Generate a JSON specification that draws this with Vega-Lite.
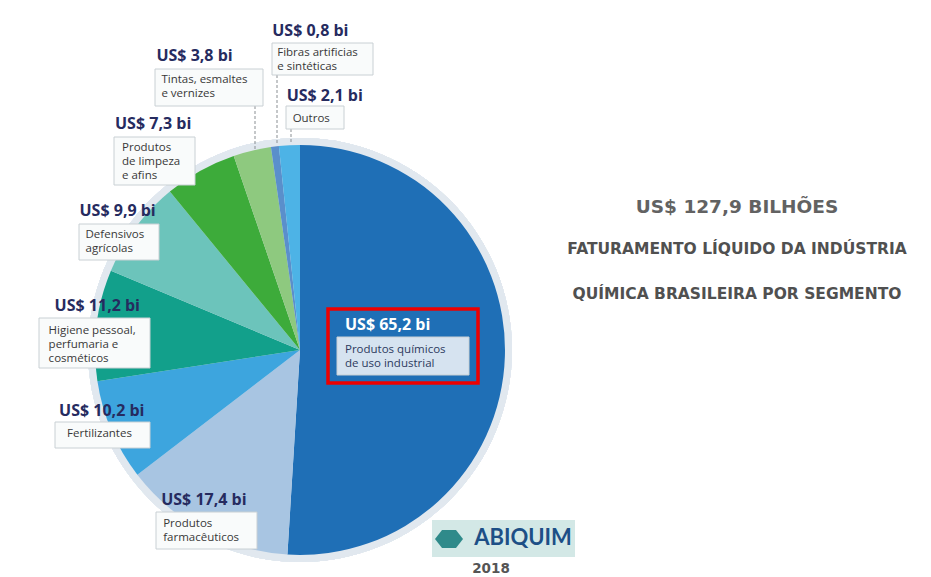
{
  "$schema": "https://vega.github.io/schema/vega-lite/v6.json",
  "width": 600,
  "height": 452,
  "autosize": {"type": "none"},
  "padding": {"left": 0, "top": 124, "right": 331, "bottom": 1},
  "background": "#ffffff",
  "config": {
    "view": {"stroke": null},
    "locale": {"number": {"decimal": ",", "thousands": ".", "grouping": [3], "currency": ["US$ ", " bi"]}}
  },
  "title": {
    "text": "US$ 127,9 BILHÕES",
    "subtitle": ["FATURAMENTO LÍQUIDO DA INDÚSTRIA", "QUÍMICA BRASILEIRA POR SEGMENTO"],
    "anchor": "middle",
    "frame": "group",
    "orient": "top",
    "align": "center",
    "dx": 437,
    "dy": 281,
    "offset": 0,
    "font": "DejaVu Sans",
    "fontSize": 18.5,
    "fontWeight": "bold",
    "color": "#626262",
    "subtitleFont": "DejaVu Sans",
    "subtitleFontSize": 15.5,
    "subtitleFontWeight": "bold",
    "subtitleColor": "#505050",
    "subtitleLineHeight": 45,
    "subtitlePadding": 25
  },
  "data": {
    "values": [
      {"segmento": "Produtos químicos de uso industrial", "nome": "Produtos químicos\nde uso industrial", "valor": 65.2, "ordem": 1},
      {"segmento": "Produtos farmacêuticos", "nome": "Produtos\nfarmacêuticos", "valor": 17.4, "ordem": 2},
      {"segmento": "Fertilizantes", "nome": "Fertilizantes", "valor": 10.2, "ordem": 3},
      {"segmento": "Higiene pessoal, perfumaria e cosméticos", "nome": "Higiene pessoal,\nperfumaria e\ncosméticos", "valor": 11.2, "ordem": 4},
      {"segmento": "Defensivos agrícolas", "nome": "Defensivos\nagrícolas", "valor": 9.9, "ordem": 5},
      {"segmento": "Produtos de limpeza e afins", "nome": "Produtos\nde limpeza\ne afins", "valor": 7.3, "ordem": 6},
      {"segmento": "Tintas, esmaltes e vernizes", "nome": "Tintas, esmaltes\ne vernizes", "valor": 3.8, "ordem": 7},
      {"segmento": "Fibras artificias e sintéticas", "nome": "Fibras artificias\ne sintéticas", "valor": 0.8, "ordem": 8},
      {"segmento": "Outros", "nome": "Outros", "valor": 2.1, "ordem": 9}
    ]
  },
  "layer": [
    {
      "mark": {"type": "arc", "outerRadius": 212, "theta": 0, "theta2": 6.2832, "color": "#e1e8ef"},
      "encoding": {}
    },
    {
      "mark": {"type": "arc", "outerRadius": 205},
      "encoding": {
        "theta": {"field": "valor", "type": "quantitative", "stack": true},
        "order": {"field": "ordem", "type": "quantitative"},
        "color": {
          "field": "segmento",
          "type": "nominal",
          "legend": null,
          "scale": {
            "domain": ["Produtos químicos de uso industrial", "Produtos farmacêuticos", "Fertilizantes", "Higiene pessoal, perfumaria e cosméticos", "Defensivos agrícolas", "Produtos de limpeza e afins", "Tintas, esmaltes e vernizes", "Fibras artificias e sintéticas", "Outros"],
            "range": ["#1f6fb6", "#a8c5e2", "#3da5de", "#12a08b", "#6cc4bb", "#3dab3a", "#8ec97f", "#5a8fcb", "#4db3e6"]
          }
        }
      }
    },
    {
      "mark": {"type": "point", "size": 4, "filled": false, "stroke": "#8a8f93", "strokeWidth": 1, "strokeDash": [3, 2], "shape": "M-45,-244V-200M-23,-275V-205M-9,-221V-208"},
      "encoding": {"opacity": {"condition": {"test": "datum.ordem === 1", "value": 1}, "value": 0}}
    },
    {
      "mark": {"type": "point", "size": 4, "filled": true, "stroke": "#c9d0d4", "strokeWidth": 1, "opacity": 1},
      "encoding": {
        "fill": {"condition": {"test": "datum.ordem === 1", "value": "#d6e3f0"}, "value": "#f9fbfb"},
        "shape": {
          "field": "segmento",
          "type": "nominal",
          "legend": null,
          "scale": {
            "domain": ["Produtos químicos de uso industrial", "Produtos farmacêuticos", "Fertilizantes", "Higiene pessoal, perfumaria e cosméticos", "Defensivos agrícolas", "Produtos de limpeza e afins", "Tintas, esmaltes e vernizes", "Fibras artificias e sintéticas", "Outros"],
            "range": ["M37,-13H169V25H37Z", "M-144,162H-43V199H-144Z", "M-245,72H-150V98H-245Z", "M-261,-32H-150V18H-261Z", "M-221,-126H-141V-90H-221Z", "M-186,-213H-105V-165H-186Z", "M-145,-281H-37V-244H-145Z", "M-28,-307H73V-275H-28Z", "M-14,-244H44V-221H-14Z"]
          }
        }
      }
    },
    {
      "mark": {"type": "point", "size": 4, "filled": false, "stroke": "#ee0000", "strokeWidth": 3.5, "shape": "M28,-41H178V33H28Z"},
      "encoding": {"opacity": {"condition": {"test": "datum.ordem === 1", "value": 1}, "value": 0}}
    },
    {
      "encoding": {
        "theta": {"field": "valor", "type": "quantitative", "stack": true},
        "order": {"field": "ordem", "type": "quantitative"},
        "detail": {"field": "segmento", "type": "nominal"}
      },
      "layer": [
        {"mark": {"type": "text", "radius": 45, "dx": 0, "dy": -34, "align": "left", "baseline": "top", "font": "Open Sans", "fontSize": 16, "fontWeight": "bold", "color": "#ffffff"},
         "encoding": {"text": {"condition": {"test": "datum.ordem === 1", "field": "valor", "type": "quantitative", "format": "$.1f"}, "value": ""}}},
        {"mark": {"type": "text", "radius": 45, "dx": 0, "dy": -7, "align": "left", "baseline": "top", "font": "Open Sans", "fontSize": 11.5, "lineHeight": 14, "lineBreak": "\n", "color": "#2d3a5e"},
         "encoding": {"text": {"condition": {"test": "datum.ordem === 1", "field": "nome"}, "value": ""}}},

        {"mark": {"type": "text", "radius": 170, "dx": -59, "dy": -8, "align": "left", "baseline": "top", "font": "Open Sans", "fontSize": 16, "fontWeight": "bold", "color": "#262b5f"},
         "encoding": {"text": {"condition": {"test": "datum.ordem === 2", "field": "valor", "type": "quantitative", "format": "$.1f"}, "value": ""}}},
        {"mark": {"type": "text", "radius": 170, "dx": -57, "dy": 18, "align": "left", "baseline": "top", "font": "Open Sans", "fontSize": 11.5, "lineHeight": 14, "lineBreak": "\n", "color": "#383838"},
         "encoding": {"text": {"condition": {"test": "datum.ordem === 2", "field": "nome"}, "value": ""}}},

        {"mark": {"type": "text", "radius": 200, "dx": -57, "dy": -26, "align": "left", "baseline": "top", "font": "Open Sans", "fontSize": 16, "fontWeight": "bold", "color": "#262b5f"},
         "encoding": {"text": {"condition": {"test": "datum.ordem === 3", "field": "valor", "type": "quantitative", "format": "$.1f"}, "value": ""}}},
        {"mark": {"type": "text", "radius": 200, "dx": -49, "dy": -1, "align": "left", "baseline": "top", "font": "Open Sans", "fontSize": 11.5, "lineHeight": 14, "lineBreak": "\n", "color": "#383838"},
         "encoding": {"text": {"condition": {"test": "datum.ordem === 3", "field": "nome"}, "value": ""}}},

        {"mark": {"type": "text", "radius": 220, "dx": -27, "dy": -25, "align": "left", "baseline": "top", "font": "Open Sans", "fontSize": 16, "fontWeight": "bold", "color": "#262b5f"},
         "encoding": {"text": {"condition": {"test": "datum.ordem === 4", "field": "valor", "type": "quantitative", "format": "$.1f"}, "value": ""}}},
        {"mark": {"type": "text", "radius": 220, "dx": -33, "dy": 2, "align": "left", "baseline": "top", "font": "Open Sans", "fontSize": 11.5, "lineHeight": 14, "lineBreak": "\n", "color": "#383838"},
         "encoding": {"text": {"condition": {"test": "datum.ordem === 4", "field": "nome"}, "value": ""}}},

        {"mark": {"type": "text", "radius": 220, "dx": -44, "dy": -16, "align": "left", "baseline": "top", "font": "Open Sans", "fontSize": 16, "fontWeight": "bold", "color": "#262b5f"},
         "encoding": {"text": {"condition": {"test": "datum.ordem === 5", "field": "valor", "type": "quantitative", "format": "$.1f"}, "value": ""}}},
        {"mark": {"type": "text", "radius": 220, "dx": -38, "dy": 10, "align": "left", "baseline": "top", "font": "Open Sans", "fontSize": 11.5, "lineHeight": 14, "lineBreak": "\n", "color": "#383838"},
         "encoding": {"text": {"condition": {"test": "datum.ordem === 5", "field": "nome"}, "value": ""}}},

        {"mark": {"type": "text", "radius": 230, "dx": -73, "dy": -33, "align": "left", "baseline": "top", "font": "Open Sans", "fontSize": 16, "fontWeight": "bold", "color": "#262b5f"},
         "encoding": {"text": {"condition": {"test": "datum.ordem === 6", "field": "valor", "type": "quantitative", "format": "$.1f"}, "value": ""}}},
        {"mark": {"type": "text", "radius": 230, "dx": -66, "dy": -7, "align": "left", "baseline": "top", "font": "Open Sans", "fontSize": 11.5, "lineHeight": 14, "lineBreak": "\n", "color": "#383838"},
         "encoding": {"text": {"condition": {"test": "datum.ordem === 6", "field": "nome"}, "value": ""}}},

        {"mark": {"type": "text", "radius": 285, "dx": -77, "dy": -25, "align": "left", "baseline": "top", "font": "Open Sans", "fontSize": 16, "fontWeight": "bold", "color": "#262b5f"},
         "encoding": {"text": {"condition": {"test": "datum.ordem === 7", "field": "valor", "type": "quantitative", "format": "$.1f"}, "value": ""}}},
        {"mark": {"type": "text", "radius": 285, "dx": -72, "dy": 1, "align": "left", "baseline": "top", "font": "Open Sans", "fontSize": 11.5, "lineHeight": 14, "lineBreak": "\n", "color": "#383838"},
         "encoding": {"text": {"condition": {"test": "datum.ordem === 7", "field": "nome"}, "value": ""}}},

        {"mark": {"type": "text", "radius": 300, "dx": 9, "dy": -29, "align": "left", "baseline": "top", "font": "Open Sans", "fontSize": 16, "fontWeight": "bold", "color": "#262b5f"},
         "encoding": {"text": {"condition": {"test": "datum.ordem === 8", "field": "valor", "type": "quantitative", "format": "$.1f"}, "value": ""}}},
        {"mark": {"type": "text", "radius": 300, "dx": 14, "dy": -5, "align": "left", "baseline": "top", "font": "Open Sans", "fontSize": 11.5, "lineHeight": 14, "lineBreak": "\n", "color": "#383838"},
         "encoding": {"text": {"condition": {"test": "datum.ordem === 8", "field": "nome"}, "value": ""}}},

        {"mark": {"type": "text", "radius": 240, "dx": -1, "dy": -22, "align": "left", "baseline": "top", "font": "Open Sans", "fontSize": 16, "fontWeight": "bold", "color": "#262b5f"},
         "encoding": {"text": {"condition": {"test": "datum.ordem === 9", "field": "valor", "type": "quantitative", "format": "$.1f"}, "value": ""}}},
        {"mark": {"type": "text", "radius": 240, "dx": 5, "dy": 3, "align": "left", "baseline": "top", "font": "Open Sans", "fontSize": 11.5, "lineHeight": 14, "lineBreak": "\n", "color": "#383838"},
         "encoding": {"text": {"condition": {"test": "datum.ordem === 9", "field": "nome"}, "value": ""}}}
      ]
    },
    {
      "data": {"values": [{"fonte": "ABIQUIM", "ano": "2018"}]},
      "layer": [
        {"mark": {"type": "point", "size": 4, "filled": true, "fill": "#d3e8e6", "strokeWidth": 0, "opacity": 1, "shape": "M132,170H275V207H132Z"}, "encoding": {}},
        {"mark": {"type": "point", "size": 4, "filled": true, "fill": "#2f8a8a", "strokeWidth": 0, "opacity": 1, "shape": "M142,180L156,180L163,189L156,198L142,198L135,189Z"}, "encoding": {}},
        {"mark": {"type": "text", "dx": 223, "dy": 188, "align": "center", "baseline": "middle", "font": "Lato", "fontSize": 22, "fontWeight": "bold", "color": "#1d4f86"},
         "encoding": {"text": {"field": "fonte"}}},
        {"mark": {"type": "text", "dx": 191, "dy": 219, "align": "center", "baseline": "middle", "font": "DejaVu Sans", "fontSize": 13.5, "fontWeight": "bold", "color": "#555555"},
         "encoding": {"text": {"field": "ano"}}}
      ]
    }
  ]
}
